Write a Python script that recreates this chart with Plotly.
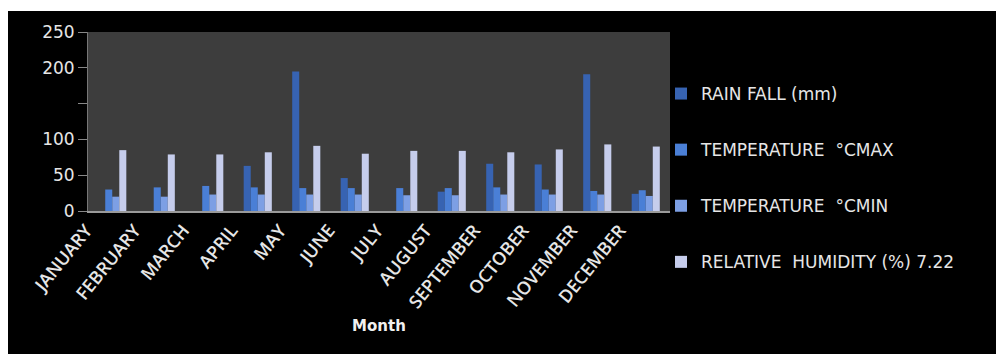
import plotly.graph_objects as go

months = ["JANUARY", "FEBRUARY", "MARCH", "APRIL", "MAY", "JUNE", "JULY",
          "AUGUST", "SEPTEMBER", "OCTOBER", "NOVEMBER", "DECEMBER"]
rain_fall = [0, 0, 0, 63, 195, 46, 0, 27, 66, 65, 191, 24]
temp_max = [30, 33, 35, 33, 32, 32, 32, 32, 33, 30, 28, 29]
temp_min = [20, 20, 23, 23, 23, 23, 22, 22, 23, 23, 23, 21]
rel_humidity = [85, 79, 79, 82, 91, 80, 84, 84, 82, 86, 93, 90]

series_names = ["RAIN FALL (mm)", "TEMPERATURE  °CMAX", "TEMPERATURE  °CMIN",
                "RELATIVE  HUMIDITY (%) 7.22"]
y_tickvals = [0, 50, 100, 150, 200, 250]
y_ticktext = ["0", "50", "100", "", "200", "250"]

colors = ["#3763b2", "#4a7fd6", "#7d9fe4", "#c6cdec"]

W, H = 996, 354
L, R, T, B = 88, 326, 32, 143
PW, PH = W - L - R, H - T - B


def px_x(px):
    return (px - L) / PW


def px_y(py):
    return (H - B - py) / PH


fig = go.Figure()
for i, (name, vals) in enumerate(zip(series_names,
                                     [rain_fall, temp_max, temp_min, rel_humidity])):
    fig.add_trace(go.Bar(
        x=months, y=vals, name=name, legendgroup=f"g{i}",
        marker=dict(color=colors[i], line=dict(width=0)),
    ))

fig.update_layout(
    width=W, height=H,
    margin=dict(l=L, r=R, t=T, b=B, pad=0),
    paper_bgcolor="#000000",
    plot_bgcolor="#3d3d3d",
    barmode="group",
    bargap=0.42,
    bargroupgap=0,
    font=dict(family="DejaVu Sans", color="#e6e6e6"),
    showlegend=True,
    legend=dict(
        x=px_x(661), y=px_y(76), xanchor="left", yanchor="top",
        font=dict(family="DejaVu Sans", size=17, color="#e6e6e6"),
        tracegroupgap=31, bgcolor="rgba(0,0,0,0)", maxheight=320,
    ),
    xaxis=dict(
        showgrid=False, showline=True, linecolor="#9a9a9a", linewidth=1.5,
        tickangle=-51, ticks="",
        tickfont=dict(family="Open Sans", size=18, color="#e6e6e6", weight=600),
        ticklabelshift=-26,
        title=dict(text="<b>Month</b>", font=dict(family="DejaVu Sans", size=15, color="#f0f0f0"),
                   standoff=9),
    ),
    yaxis=dict(
        range=[0, 250], tickvals=y_tickvals, ticktext=y_ticktext,
        showgrid=False, zeroline=False, showline=True, linecolor="#777777", linewidth=1,
        ticks="outside", ticklen=9, tickcolor="#888888",
        tickfont=dict(family="DejaVu Sans", size=17, color="#e6e6e6"),
    ),
    shapes=[
        dict(type="rect", xref="paper", yref="paper", layer="above",
             x0=px_x(0), x1=px_x(W), y0=px_y(11), y1=px_y(0),
             fillcolor="#ffffff", line=dict(width=0)),
        dict(type="rect", xref="paper", yref="paper", layer="above",
             x0=px_x(0), x1=px_x(8), y0=px_y(H), y1=px_y(0),
             fillcolor="#ffffff", line=dict(width=0)),
    ],
)

fig.write_html("out.html")
